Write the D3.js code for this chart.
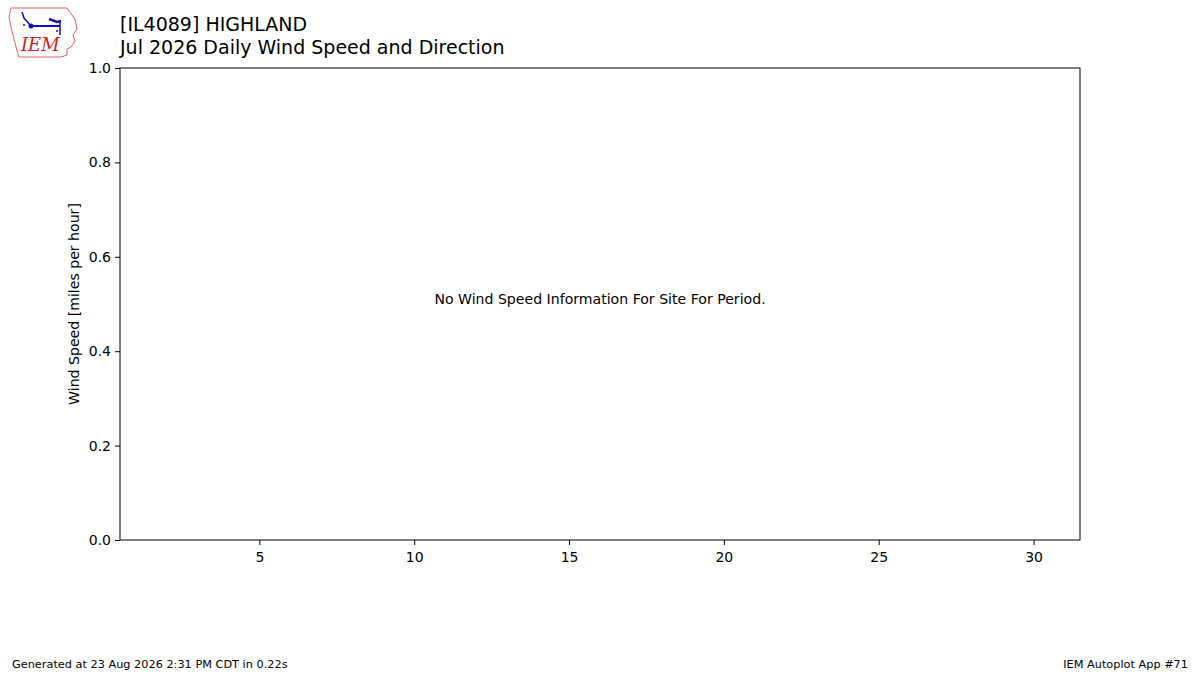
<!DOCTYPE html>
<html>
<head>
<meta charset="utf-8">
<script src="https://cdn.jsdelivr.net/npm/d3@7"></script>
<style>
  body { margin: 0; background: #fff; }
  svg { display: block; font-family: "DejaVu Sans", sans-serif; }
</style>
</head>
<body>
<svg width="1200" height="675"></svg>
<script>
// Days of the month (x domain) and tick labels.
var dayDomain = [0.5, 31.5];
var xTicks = [5, 10, 15, 20, 25, 30];
var yTicks = [0.0, 0.2, 0.4, 0.6, 0.8, 1.0];
// No observations for this period.
var windSpeed = [];

var svg = d3.select("svg");
var margin = {left: 120, top: 68, right: 1080, bottom: 540};

var x = d3.scaleLinear().domain(dayDomain).range([margin.left, margin.right]);
var y = d3.scaleLinear().domain([0, 1]).range([margin.bottom, margin.top]);

// Logo: rough Iowa outline with wind symbol.
var logo = svg.append("g").attr("transform", "translate(9,7)");
logo.append("path")
	.attr("d", "M2,1 L58,1 L60,4 L66,12 L68,22 L64,28 L66,34 L62,40 L58,42 L58,48 L52,50 L10,50 L8,44 L6,36 L4,28 L2,20 L0,10 Z")
	.attr("fill", "none")
	.attr("stroke", "#e06060")
	.attr("stroke-width", 1);
logo.append("line").attr("x1", 22).attr("y1", 19).attr("x2", 51).attr("y2", 19)
	.attr("stroke", "#1010c0").attr("stroke-width", 2);
logo.append("circle").attr("cx", 22).attr("cy", 19).attr("r", 2.5).attr("fill", "#1010c0");
logo.append("path").attr("d", "M22,19 L15,11 L13,5").attr("fill", "none")
	.attr("stroke", "#1010c0").attr("stroke-width", 1.5);
logo.append("path").attr("d", "M40,12 L48,15 L52,14").attr("fill", "none")
	.attr("stroke", "#1010c0").attr("stroke-width", 2.5);
logo.append("line").attr("x1", 51).attr("y1", 13).attr("x2", 51).attr("y2", 28)
	.attr("stroke", "#1010c0").attr("stroke-width", 1.5);
logo.append("circle").attr("cx", 15).attr("cy", 18).attr("r", 1).attr("fill", "#1010c0");
logo.append("circle").attr("cx", 48).attr("cy", 24).attr("r", 1).attr("fill", "#1010c0");
logo.append("text").attr("x", 12).attr("y", 44)
	.attr("font-family", "'DejaVu Serif', serif").attr("font-style", "italic")
	.attr("font-size", 18).attr("fill", "#d02020").text("IEM");

// Titles.
svg.append("text").attr("x", 120).attr("y", 31).attr("font-size", 19).text("[IL4089] HIGHLAND");
svg.append("text").attr("x", 120).attr("y", 54).attr("font-size", 19).text("Jul 2026 Daily Wind Speed and Direction");

// Axes.
var xAxis = svg.append("g")
	.attr("transform", "translate(0," + margin.bottom + ")")
	.call(d3.axisBottom(x).tickValues(xTicks).tickSize(5).tickPadding(4).tickSizeOuter(0));
var yAxis = svg.append("g")
	.attr("transform", "translate(" + margin.left + ",0)")
	.call(d3.axisLeft(y).tickValues(yTicks).tickFormat(d3.format(".1f")).tickSize(5).tickPadding(4).tickSizeOuter(0));
[xAxis, yAxis].forEach(function(a) {
	a.selectAll("text").attr("font-size", 14).attr("font-family", "'DejaVu Sans', sans-serif").attr("fill", "#000");
	a.selectAll("line").attr("stroke", "#000");
	a.select(".domain").remove();
});
xAxis.selectAll("text").attr("dy", "0.9em");

// Frame.
svg.append("rect")
	.attr("x", margin.left).attr("y", margin.top)
	.attr("width", margin.right - margin.left).attr("height", margin.bottom - margin.top)
	.attr("fill", "none").attr("stroke", "#000").attr("stroke-width", 1);

// Bars (none for this period).
svg.append("g").selectAll("rect").data(windSpeed).enter().append("rect")
	.attr("x", function(d, i) { return x(i + 1) - 12; })
	.attr("width", 24)
	.attr("y", function(d) { return y(d); })
	.attr("height", function(d) { return y(0) - y(d); })
	.attr("fill", "tan");

// Y label.
svg.append("text")
	.attr("transform", "translate(79," + y(0.5) + ") rotate(-90)")
	.attr("text-anchor", "middle").attr("font-size", 14.1)
	.text("Wind Speed [miles per hour]");

// No data message.
if (windSpeed.length === 0) {
	svg.append("text").attr("x", x(16)).attr("y", y(0.5))
		.attr("text-anchor", "middle").attr("font-size", 14.1)
		.text("No Wind Speed Information For Site For Period.");
}

// Footer.
svg.append("text").attr("x", 12).attr("y", 668).attr("font-size", 11.3).text("Generated at 23 Aug 2026 2:31 PM CDT in 0.22s");
svg.append("text").attr("x", 1188).attr("y", 668).attr("text-anchor", "end").attr("font-size", 11.3).text("IEM Autoplot App #71");
</script>
</body>
</html>
